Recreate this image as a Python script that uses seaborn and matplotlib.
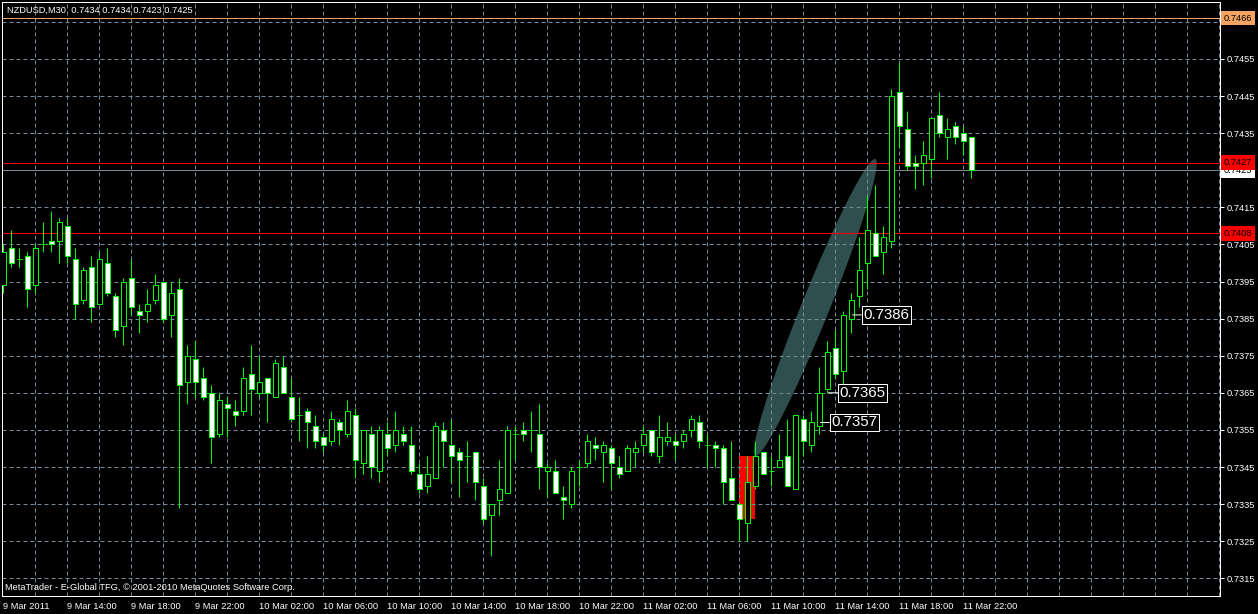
import matplotlib
matplotlib.use("Agg")
import matplotlib.pyplot as plt
from matplotlib.patches import Rectangle, Polygon
import numpy as np
import seaborn as sns

# NZDUSD M30 bars, starting 9 Mar 2011 10:00 (one entry per bar)
opens = [0.7394, 0.7404, 0.7401, 0.7402, 0.7394, 0.7405, 0.7406, 0.7406, 0.7410, 0.7401,
         0.7390, 0.7399, 0.7389, 0.7400, 0.7391, 0.7383, 0.7396, 0.7387, 0.7387, 0.7390,
         0.7395, 0.7386, 0.7393, 0.7368, 0.7374, 0.7369, 0.7365, 0.7354, 0.7362, 0.7360,
         0.7360, 0.7370, 0.7365, 0.7369, 0.7364, 0.7372, 0.7364, 0.7359, 0.7360, 0.7356,
         0.7353, 0.7352, 0.7357, 0.7354, 0.7359, 0.7346, 0.7354, 0.7344, 0.7354, 0.7351,
         0.7354, 0.7351, 0.7343, 0.7340, 0.7342, 0.7355, 0.7351, 0.7349, 0.7348, 0.7349,
         0.7340, 0.7332, 0.7336, 0.7338, 0.7354, 0.7355, 0.7355, 0.7354, 0.7344, 0.7344,
         0.7337, 0.7335, 0.7345, 0.7346, 0.7351, 0.7349, 0.7350, 0.7345, 0.7344, 0.7349,
         0.7351, 0.7355, 0.7348, 0.7352, 0.7352, 0.7352, 0.7355, 0.7357, 0.7351, 0.7351,
         0.7350, 0.7342, 0.7335, 0.7330, 0.7340, 0.7349, 0.7344, 0.7345, 0.7348, 0.7339,
         0.7358, 0.7351, 0.7356, 0.7366, 0.7377, 0.7371, 0.7385, 0.7391, 0.7400, 0.7408,
         0.7403, 0.7406, 0.7446, 0.7436, 0.7427, 0.7427, 0.7428, 0.7440, 0.7434, 0.7437,
         0.7435, 0.7434]
highs = [0.7405, 0.7409, 0.7404, 0.7403, 0.7405, 0.7411, 0.7414, 0.7412, 0.7412, 0.7404,
         0.7399, 0.7402, 0.7403, 0.7404, 0.7392, 0.7396, 0.7401, 0.7389, 0.7393, 0.7397,
         0.7395, 0.7395, 0.7396, 0.7378, 0.7379, 0.7372, 0.7367, 0.7365, 0.7364, 0.7363,
         0.7372, 0.7378, 0.7375, 0.7369, 0.7374, 0.7375, 0.7369, 0.7364, 0.7361, 0.7359,
         0.7354, 0.7360, 0.7358, 0.7363, 0.7361, 0.7355, 0.7356, 0.7356, 0.7357, 0.7360,
         0.7356, 0.7356, 0.7346, 0.7348, 0.7357, 0.7357, 0.7358, 0.7350, 0.7352, 0.7349,
         0.7342, 0.7335, 0.7347, 0.7356, 0.7356, 0.7357, 0.7360, 0.7362, 0.7346, 0.7347,
         0.7340, 0.7345, 0.7347, 0.7354, 0.7353, 0.7352, 0.7351, 0.7348, 0.7351, 0.7352,
         0.7356, 0.7355, 0.7359, 0.7357, 0.7354, 0.7355, 0.7359, 0.7359, 0.7354, 0.7352,
         0.7351, 0.7352, 0.7335, 0.7348, 0.7352, 0.7349, 0.7348, 0.7354, 0.7358, 0.7359,
         0.7359, 0.7360, 0.7372, 0.7379, 0.7382, 0.7387, 0.7392, 0.7407, 0.7418, 0.7421,
         0.7410, 0.7447, 0.7454, 0.7441, 0.7429, 0.7433, 0.7439, 0.7446, 0.7439, 0.7438,
         0.7437, 0.7434]
lows = [0.7392, 0.7399, 0.7399, 0.7388, 0.7392, 0.7403, 0.7403, 0.7400, 0.7400, 0.7385,
        0.7389, 0.7384, 0.7389, 0.7391, 0.7380, 0.7378, 0.7386, 0.7381, 0.7384, 0.7389,
        0.7384, 0.7380, 0.7334, 0.7362, 0.7364, 0.7363, 0.7346, 0.7353, 0.7353, 0.7356,
        0.7359, 0.7359, 0.7364, 0.7357, 0.7364, 0.7365, 0.7357, 0.7352, 0.7350, 0.7350,
        0.7349, 0.7351, 0.7351, 0.7353, 0.7342, 0.7343, 0.7342, 0.7341, 0.7348, 0.7349,
        0.7351, 0.7343, 0.7338, 0.7338, 0.7342, 0.7345, 0.7341, 0.7337, 0.7341, 0.7336,
        0.7330, 0.7321, 0.7332, 0.7338, 0.7347, 0.7352, 0.7349, 0.7339, 0.7337, 0.7338,
        0.7331, 0.7334, 0.7340, 0.7345, 0.7347, 0.7341, 0.7339, 0.7342, 0.7344, 0.7345,
        0.7349, 0.7348, 0.7346, 0.7351, 0.7347, 0.7350, 0.7353, 0.7350, 0.7345, 0.7345,
        0.7335, 0.7336, 0.7325, 0.7325, 0.7339, 0.7343, 0.7340, 0.7345, 0.7340, 0.7339,
        0.7348, 0.7349, 0.7354, 0.7365, 0.7369, 0.7365, 0.7381, 0.7388, 0.7393, 0.7402,
        0.7397, 0.7404, 0.7431, 0.7425, 0.7420, 0.7421, 0.7423, 0.7434, 0.7428, 0.7432,
        0.7429, 0.7423]
closes = [0.7403, 0.7400, 0.7401, 0.7393, 0.7404, 0.7405, 0.7405, 0.7411, 0.7402, 0.7389,
          0.7398, 0.7388, 0.7401, 0.7392, 0.7382, 0.7395, 0.7388, 0.7386, 0.7389, 0.7394,
          0.7385, 0.7392, 0.7367, 0.7375, 0.7368, 0.7364, 0.7353, 0.7363, 0.7361, 0.7359,
          0.7369, 0.7366, 0.7368, 0.7365, 0.7373, 0.7365, 0.7358, 0.7359, 0.7357, 0.7352,
          0.7351, 0.7358, 0.7355, 0.7360, 0.7347, 0.7355, 0.7345, 0.7355, 0.7350, 0.7355,
          0.7352, 0.7344, 0.7339, 0.7343, 0.7356, 0.7352, 0.7348, 0.7347, 0.7348, 0.7341,
          0.7331, 0.7335, 0.7339, 0.7355, 0.7354, 0.7354, 0.7355, 0.7345, 0.7345, 0.7338,
          0.7336, 0.7344, 0.7345, 0.7352, 0.7350, 0.7351, 0.7346, 0.7343, 0.7350, 0.7350,
          0.7354, 0.7349, 0.7353, 0.7353, 0.7351, 0.7354, 0.7358, 0.7352, 0.7351, 0.7350,
          0.7341, 0.7336, 0.7331, 0.7341, 0.7348, 0.7343, 0.7344, 0.7347, 0.7340, 0.7359,
          0.7352, 0.7357, 0.7365, 0.7376, 0.7370, 0.7386, 0.7390, 0.7398, 0.7409, 0.7402,
          0.7407, 0.7445, 0.7437, 0.7426, 0.7426, 0.7429, 0.7439, 0.7435, 0.7436, 0.7434,
          0.7433, 0.7425]

time_tick_bars = [0, 8, 16, 24, 32, 40, 48, 56, 64, 72, 80, 88, 96, 104, 112, 120]
time_tick_labels = ["9 Mar 2011", "9 Mar 14:00", "9 Mar 18:00", "9 Mar 22:00",
                    "10 Mar 02:00", "10 Mar 06:00", "10 Mar 10:00", "10 Mar 14:00",
                    "10 Mar 18:00", "10 Mar 22:00", "11 Mar 02:00", "11 Mar 06:00",
                    "11 Mar 10:00", "11 Mar 14:00", "11 Mar 18:00", "11 Mar 22:00"]
grid_prices = [0.7315, 0.7325, 0.7335, 0.7345, 0.7355, 0.7365, 0.7375, 0.7385,
               0.7395, 0.7405, 0.7415, 0.7425, 0.7435, 0.7445, 0.7455, 0.7465]
# labels hidden under the price tags (0.7425, 0.7465) are left blank
price_tick_labels = ["0.7315", "0.7325", "0.7335", "0.7345", "0.7355", "0.7365", "0.7375", "0.7385",
                     "0.7395", "0.7405", "0.7415", "", "0.7435", "0.7445", "0.7455", ""]

# chart objects
hline_levels = [0.7466, 0.7427, 0.7408]
hline_colors = ["#F4A460", "#FF0000", "#FF0000"]
bid_price = 0.7425
rect_bars = [92, 94]
rect_prices = [0.7331, 0.7348]
ellipse_bars = [94, 109]
ellipse_prices = [0.7348, 0.7428]
label_bars = [102, 103, 106]
label_prices = [0.7357, 0.7365, 0.7386]

title_text = "NZDUSD,M30  0.7434 0.7434 0.7423 0.7425"
footer_text = "MetaTrader - E-Global TFG, \u00a9 2001-2010 MetaQuotes Software Corp."

sns.set_theme(style="dark", rc={"axes.facecolor": "black", "figure.facecolor": "black",
                                "savefig.facecolor": "black", "axes.edgecolor": "white",
                                "text.color": "white", "xtick.color": "white",
                                "ytick.color": "white"})
plt.rcParams["font.family"] = ["Liberation Sans", "DejaVu Sans"]

LIME = "#00FF00"
GRID = "#778899"
PX = 0.72  # one pixel in points at 100 dpi
FS = 6.7

fig = plt.figure(figsize=(12.58, 6.14), dpi=100)
ax = fig.add_axes([2 / 1258, 18 / 614, 1218 / 1258, 594 / 614])
ax.set_xlim(-0.1625, 152.0875)
ax.set_ylim(0.731023, 0.747034)

# dashed grid
for k in range(4, 153, 4):
    ax.axvline(k, color=GRID, lw=PX, ls=(0, (4, 3)), zorder=0.6)
for p in grid_prices:
    ax.axhline(p, color=GRID, lw=PX, ls=(0, (4, 3)), zorder=0.6)

# ellipse object, drawn in screen space between its two anchor points
p0 = ax.transData.transform((ellipse_bars[0], ellipse_prices[0]))
p1 = ax.transData.transform((ellipse_bars[1], ellipse_prices[1]))
c = (p0 + p1) / 2
v = p1 - p0
L = np.hypot(*v)
u = v / L
nrm = np.array([-u[1], u[0]])
t = np.linspace(0, 2 * np.pi, 240)
pts = c + np.outer(np.cos(t) * L / 2, u) + np.outer(np.sin(t) * 14, nrm)
ax.add_patch(Polygon(ax.transData.inverted().transform(pts), closed=True,
                     fc="#2F4F4F", ec="none", zorder=0.5))

# red rectangle
ax.add_patch(Rectangle((rect_bars[0], rect_prices[0]), rect_bars[1] - rect_bars[0],
                       rect_prices[1] - rect_prices[0], fc="#FF0000", ec="none", zorder=0.55))

# horizontal lines
for lvl, col in zip(hline_levels, hline_colors):
    ax.axhline(lvl, color=col, lw=PX, antialiased=False, zorder=2)
ax.axhline(bid_price, color=GRID, lw=PX, antialiased=False, zorder=2)

# candles
x = np.arange(len(opens))
o = np.array(opens)
cl = np.array(closes)
ax.vlines(x, lows, highs, color=LIME, lw=PX, zorder=3)
fills = np.where(cl > o, "black", "white")
ax.bar(x, np.abs(cl - o), bottom=np.minimum(o, cl), width=0.58, color=fills,
       edgecolor=LIME, linewidth=PX, zorder=4)

# price labels with white frame
for b, p in zip(label_bars, label_prices):
    ax.annotate(f"{p:.4f}", xy=(b + 0.15, p), xytext=(8, 0), textcoords="offset points",
                ha="left", va="center", fontsize=10.8, color="white",
                bbox=dict(boxstyle="square,pad=0.12", fc="black", ec="white", lw=PX),
                arrowprops=dict(arrowstyle="-", color="white", lw=PX, shrinkA=0, shrinkB=0),
                zorder=6)

# axes and ticks
for s in ax.spines.values():
    s.set_color("white")
    s.set_linewidth(PX)
ax.grid(False)
ax.yaxis.tick_right()
ax.set_yticks(grid_prices)
ax.set_yticklabels(price_tick_labels)
ax.set_xticks(time_tick_bars)
ax.set_xticklabels(time_tick_labels, ha="left")
ax.tick_params(axis="y", length=3, width=PX, pad=2, labelsize=FS, colors="white")
ax.tick_params(axis="x", length=3, width=PX, pad=1, labelsize=FS, colors="white")

# price tags on the right scale
tags = [(bid_price, "white"), (hline_levels[0], hline_colors[0]),
        (hline_levels[1], hline_colors[1]), (hline_levels[2], hline_colors[2])]
for lvl, col in tags:
    ax.text(1 + 4 / 1218, lvl, f"{lvl:.4f}", transform=ax.get_yaxis_transform(),
            ha="left", va="center", fontsize=FS, color="black", clip_on=False,
            bbox=dict(boxstyle="square,pad=0.3", fc=col, ec="none"), zorder=10)

ax.text(5 / 1218, 1 - 8 / 594, title_text, transform=ax.transAxes, ha="left", va="center",
        fontsize=FS, color="white", zorder=10)
ax.text(3 / 1218, 8 / 594, footer_text, transform=ax.transAxes, ha="left", va="center",
        fontsize=FS, color="white", zorder=10)

fig.savefig("out.png", dpi=100, facecolor="black")
